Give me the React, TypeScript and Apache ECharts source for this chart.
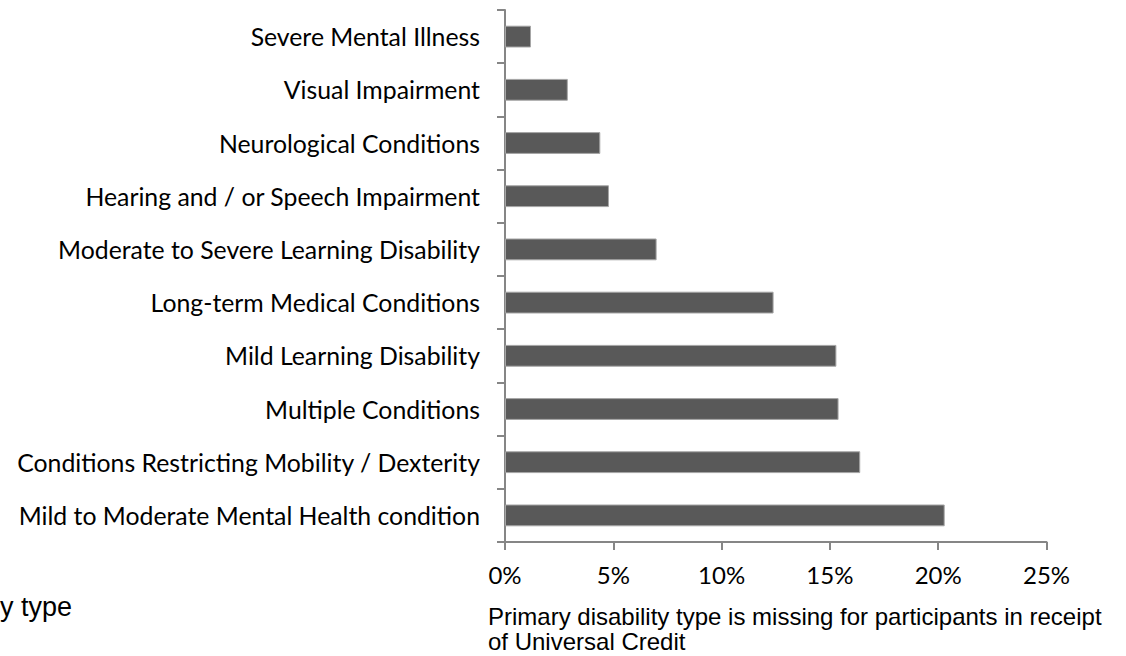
import React, { useEffect, useRef } from "react";
import * as echarts from "echarts";

// Categories listed top to bottom
const categories: string[] = [
  "Severe Mental Illness",
  "Visual Impairment",
  "Neurological Conditions",
  "Hearing and / or Speech Impairment",
  "Moderate to Severe Learning Disability",
  "Long-term Medical Conditions",
  "Mild Learning Disability",
  "Multiple Conditions",
  "Conditions Restricting Mobility / Dexterity",
  "Mild to Moderate Mental Health condition",
];

// Share of participants per primary disability type (fraction)
const shares: number[] = [0.012, 0.029, 0.044, 0.048, 0.07, 0.124, 0.153, 0.154, 0.164, 0.203];

const xTicks = { min: 0, max: 0.25, interval: 0.05 };

const noteLines: string[] = [
  "Primary disability type is missing for participants in receipt",
  "of Universal Credit",
];
const titleTail = "y type";

export default function App() {
  const ref = useRef<HTMLDivElement>(null);

  useEffect(() => {
    if (!ref.current) return;
    const chart = echarts.init(ref.current, null, { renderer: "svg" });
    const axisColor = "#868686";
    const labelFont = "Lato, 'Open Sans', sans-serif";
    const sansFont = "'Liberation Sans', Arial, sans-serif";
    chart.setOption({
      animation: false,
      grid: { left: 505, top: 10, width: 541.5, height: 532, containLabel: false },
      xAxis: {
        type: "value",
        min: xTicks.min,
        max: xTicks.max,
        interval: xTicks.interval,
        axisLine: { show: true, lineStyle: { color: axisColor, width: 2 } },
        axisTick: { show: true, length: 8, lineStyle: { color: axisColor, width: 2 } },
        splitLine: { show: false },
        axisLabel: {
          margin: 20,
          color: "#000",
          fontSize: 24,
          fontFamily: labelFont,
          formatter: (v: number) => `${Math.round(v * 100)}%`,
        },
      },
      yAxis: {
        type: "category",
        inverse: true,
        data: categories,
        axisLine: { show: true, lineStyle: { color: axisColor, width: 2 } },
        axisTick: { show: true, length: 8, interval: 0, lineStyle: { color: axisColor, width: 2 } },
        axisLabel: {
          margin: 25,
          interval: 0,
          color: "#000",
          fontSize: 24.8,
          fontFamily: labelFont,
        },
      },
      series: [
        {
          type: "bar",
          data: shares,
          barCategoryGap: "59%",
          itemStyle: { color: "#595959", borderColor: "#a6a6a6", borderWidth: 1 },
        },
      ],
      graphic: [
        {
          type: "text",
          x: 0,
          y: 593,
          style: {
            text: titleTail,
            fontSize: 27,
            fontFamily: sansFont,
            fill: "#000",
          },
        },
        {
          type: "text",
          x: 488,
          y: 604,
          style: {
            text: noteLines[0],
            fontSize: 24,
            fontFamily: sansFont,
            fill: "#000",
          },
        },
        {
          type: "text",
          x: 488,
          y: 629,
          style: {
            text: noteLines[1],
            fontSize: 24,
            fontFamily: sansFont,
            fill: "#000",
          },
        },
      ],
    });
    return () => chart.dispose();
  }, []);

  return (
    <div
      ref={ref}
      style={{ position: "fixed", left: 0, top: 0, width: 1126, height: 656, background: "#fff" }}
    />
  );
}
